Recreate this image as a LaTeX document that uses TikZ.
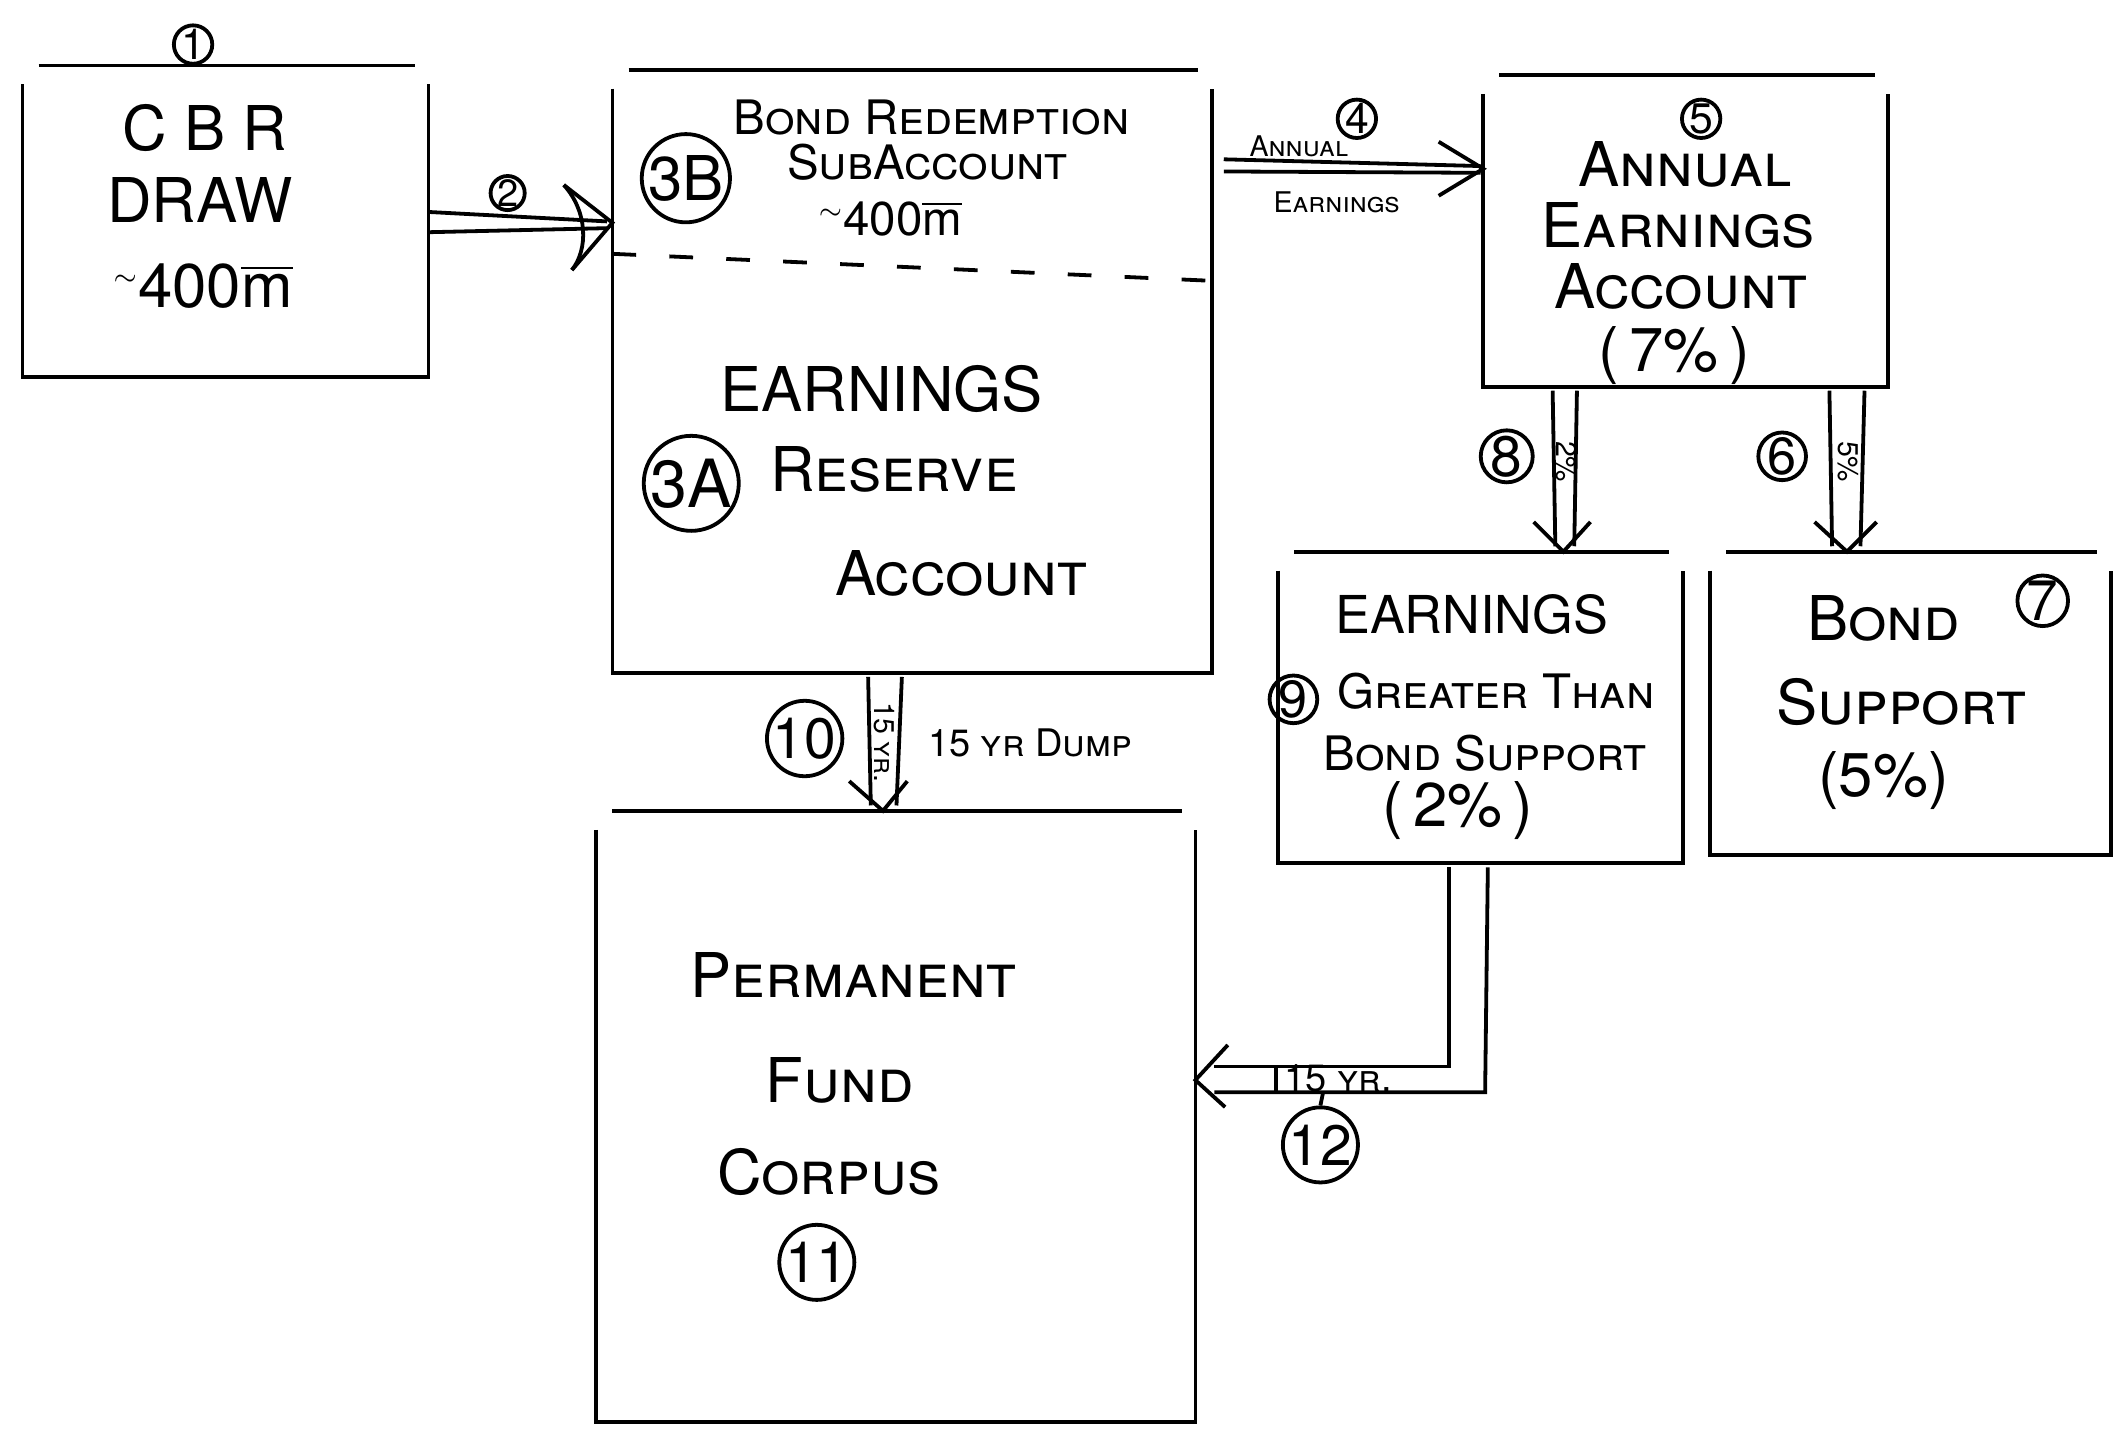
\documentclass[tikz,border=0pt]{standalone}
\usepackage{fontspec}
\setmainfont{TeX Gyre Heros}
\usetikzlibrary{calc,fit}
\newcommand\handbox[1]{%
  \draw ($(#1.north west)+(12,0)$) -- ($(#1.north east)+(-10,0)$);
  \draw ($(#1.north west)+(0,14)$) -- (#1.south west) -- (#1.south east) -- ($(#1.north east)+(0,14)$);}
\newcommand\approxm{\raisebox{0.7ex}{\tiny$\sim$}}
\newcommand\mill{$\overline{\mbox{m}}$}
\begin{document}
\begin{tikzpicture}[x=0.01cm,y=-0.01cm, line width=0.8pt,
  region/.style={inner sep=0pt},
  num/.style={draw, circle, inner sep=0pt, minimum size=0.27cm, font=\fontsize{9}{10}\selectfont},
  big/.style={font=\fontsize{13}{15}\selectfont, inner sep=0pt},
  mid/.style={font=\fontsize{10}{12}\selectfont, inner sep=0pt},
  small/.style={font=\fontsize{7}{8}\selectfont, inner sep=0pt},
  tiny/.style={font=\fontsize{6}{7}\selectfont, inner sep=0pt},
  dashline/.style={dash pattern=on 5pt off 7pt},
]
\useasboundingbox (0,0) rectangle (1568,1058);

% boxes
\node[region, fit={(18,50) (316,278)}] (b1) {};
\node[region, fit={(455,53) (896,497)}] (b3) {};
\node[region, fit={(1100,57) (1397,285)}] (b5) {};
\node[region, fit={(948,410) (1245,638)}] (b9) {};
\node[region, fit={(1268,410) (1562,632)}] (b7) {};
\node[region, fit={(443,602) (884,1052)}] (b11) {};
\handbox{b1}\handbox{b3}\handbox{b5}\handbox{b9}\handbox{b7}\handbox{b11}

% box 1
\node[num] (c1) at (143,33) {1};
\node[big] (t1a) at (152,95) {C B R};
\node[big] (t1b) at (148,148) {DRAW};
\node[big] (t1c) at (150,212) {\approxm400\mill};

% box 3
\draw[dashline] (b3.west |- 0,188) -- (b3.east |- 0,208);
\node[num, minimum size=0.42cm, font=\fontsize{13}{14}\selectfont] (c3b) at (508,132) {3B};
\node[mid] (t3a) at (690,87) {\textsc{Bond Redemption}};
\node[mid] (t3b) at (687,120) {\textsc{SubAccount}};
\node[mid] (t3c) at (659,162) {\approxm400\mill};
\node[big] (t3d) at (653,288) {EARNINGS};
\node[num, minimum size=0.5cm, font=\fontsize{14}{15}\selectfont] (c3a) at (512,358) {3A};
\node[big] (t3e) at (662,348) {\textsc{Reserve}};
\node[big] (t3f) at (712,425) {\textsc{Account}};

% arrow 2
\node[num, minimum size=0.23cm, font=\fontsize{8}{9}\selectfont] (c2) at (376,143) {2};
\draw (b1.east |- 0,157) -- ($(b3.west |- 0,164)+(-4,0)$);
\draw (b1.east |- 0,172) -- ($(b3.west |- 0,169)+(-4,0)$);
\coordinate (h2) at (b3.west |- 0,165);
\draw ($(h2)+(-36,-28)$) -- (h2) -- ($(h2)+(-30,35)$);
\draw ($(h2)+(-36,-28)$) .. controls ($(h2)+(-18,-8)$) and ($(h2)+(-18,20)$) .. ($(h2)+(-30,35)$);

% arrow 4
\node[num] (c4) at (1005,88) {4};
\draw ($(b3.east |- 0,118)+(9,0)$) -- ($(b5.west |- 0,123)+(-2,0)$);
\draw ($(b3.east |- 0,127)+(9,0)$) -- ($(b5.west |- 0,128)+(-2,0)$);
\coordinate (h4) at (b5.west |- 0,125);
\draw ($(h4)+(-33,-20)$) -- (h4) -- ($(h4)+(-33,20)$);
\node[tiny] (l4a) at (962,108) {\textsc{Annual}};
\node[tiny] (l4b) at (990,150) {\textsc{Earnings}};

% box 5
\node[num] (c5) at (1260,88) {5};
\node[big] (t5a) at (1248,122) {\textsc{Annual}};
\node[big] (t5b) at (1243,167) {\textsc{Earnings}};
\node[big] (t5c) at (1245,212) {\textsc{Account}};
\node[big] (t5d) at (1240,263) {(\,7\%\,)};

% arrow 8
\draw ($(b5.south -| 1150,0)+(0,3)$) -- ($(b9.north -| 1152,0)+(0,-4)$);
\draw ($(b5.south -| 1168,0)+(0,3)$) -- ($(b9.north -| 1166,0)+(0,-4)$);
\coordinate (h8) at (b9.north -| 1158,0);
\draw ($(h8)+(-22,-22)$) -- (h8) -- ($(h8)+(20,-22)$);
\node[tiny, rotate=-90] (l8) at (1160,342) {2\%};
\node[num, minimum size=0.34cm, font=\fontsize{12}{13}\selectfont] (c8) at (1116,338) {8};

% arrow 6
\draw ($(b5.south -| 1355,0)+(0,3)$) -- ($(b7.north -| 1357,0)+(0,-4)$);
\draw ($(b5.south -| 1381,0)+(0,3)$) -- ($(b7.north -| 1378,0)+(0,-4)$);
\coordinate (h6) at (b7.north -| 1368,0);
\draw ($(h6)+(-24,-22)$) -- (h6) -- ($(h6)+(22,-22)$);
\node[tiny, rotate=-90] (l6) at (1369,342) {5\%};
\node[num, minimum size=0.3cm, font=\fontsize{11}{12}\selectfont] (c6) at (1320,338) {6};

% box 9
\node[big, font=\fontsize{11}{13}\selectfont] (t9a) at (1090,455) {EARNINGS};
\node[num, minimum size=0.28cm, font=\fontsize{11}{12}\selectfont] (c9) at (958,518) {9};
\node[mid] (t9b) at (1108,512) {\textsc{Greater Than}};
\node[mid] (t9c) at (1100,558) {\textsc{Bond Support}};
\node[big] (t9d) at (1080,600) {(\,2\%\,)};

% box 7
\node[big] (t7a) at (1395,458) {\textsc{Bond}};
\node[num, minimum size=0.34cm, font=\fontsize{12}{13}\selectfont] (c7) at (1513,445) {7};
\node[big] (t7b) at (1408,520) {\textsc{Support}};
\node[big] (t7c) at (1395,578) {(5\%)};

% arrow 10
\draw ($(b3.south -| 643,0)+(0,3)$) -- ($(b11.north -| 645,0)+(0,-4)$);
\draw ($(b3.south -| 668,0)+(0,3)$) -- ($(b11.north -| 664,0)+(0,-4)$);
\coordinate (h10) at (b11.north -| 654,0);
\draw ($(h10)+(-25,-22)$) -- (h10) -- ($(h10)+(18,-22)$);
\node[tiny, rotate=-90] (l10) at (655,550) {\textsc{15 yr.}};
\node[num, minimum size=0.42cm, font=\fontsize{12}{13}\selectfont] (c10) at (596,547) {10};
\node[small, font=\fontsize{8}{9}\selectfont, anchor=west] (t10) at (686,550) {\textsc{15 yr Dump}};

% box 11
\node[big] (t11a) at (632,722) {\textsc{Permanent}};
\node[big] (t11b) at (622,800) {\textsc{Fund}};
\node[big] (t11c) at (614,868) {\textsc{Corpus}};
\node[num, minimum size=0.42cm, font=\fontsize{12}{13}\selectfont] (c11) at (605,935) {11};

% arrow 12
\coordinate (h12) at (b11.east |- 0,800);
\draw ($(b9.south -| 1073,0)+(0,3)$) -- (1073,790) -- ($(h12)+(14,-10)$);
\draw ($(b9.south -| 1102,0)+(0,3)$) -- (1100,809) -- ($(h12)+(14,9)$);
\draw ($(h12)+(24,-26)$) -- (h12) -- ($(h12)+(22,20)$);
\draw (945,790) -- (945,809);
\node[small, font=\fontsize{8}{9}\selectfont, anchor=west] (l12) at (950,799) {\textsc{15 yr.}};
\node[num, minimum size=0.4cm, font=\fontsize{12}{13}\selectfont] (c12) at (978,848) {12};
\draw (c12.north) -- (980,809);
\end{tikzpicture}
\end{document}
